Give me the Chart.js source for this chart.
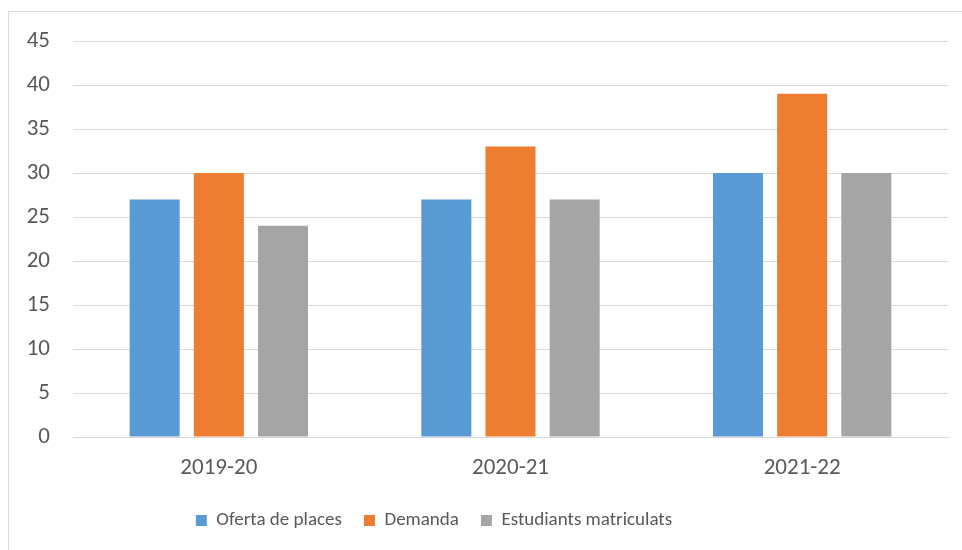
<!DOCTYPE html>
<html>
<head>
<meta charset="utf-8">
<script src="https://cdn.jsdelivr.net/npm/chart.js@4.4.0/dist/chart.umd.min.js"></script>
<style>
    body { margin: 0; background: #fff; }
    #frame { position: absolute; left: 8px; top: 11px; width: 980px; height: 600px; border: 1px solid #d9d9d9; }
    #wrap { position: absolute; left: 0; top: 0; width: 962px; height: 550px; }
</style>
</head>
<body>
<div id="frame"></div>
<div id="wrap"><canvas id="chart"></canvas></div>
<script>
const categories = ["2019-20", "2020-21", "2021-22"];
const oferta = [27, 27, 30];
const demanda = [30, 33, 39];
const matriculats = [24, 27, 30];
const seriesNames = ["Oferta de places", "Demanda", "Estudiants matriculats"];
const yTicks = [0, 5, 10, 15, 20, 25, 30, 35, 40, 45];

const fontFam = "Carlito, Lato, sans-serif";
const textCol = "#595959";

// the legend sits a bit left of centre in the original
const legendShift = {
    id: 'legendShift',
    afterLayout(chart) {
        const lg = chart.legend;
        lg.left -= 40;
        lg.right -= 40;
    }
};

const chart = new Chart(document.querySelector("#chart"), {
    type: 'bar',
    data: {
        labels: categories,
        datasets: [
            { label: seriesNames[0], data: oferta, backgroundColor: "#5b9bd5" },
            { label: seriesNames[1], data: demanda, backgroundColor: "#ed7d31" },
            { label: seriesNames[2], data: matriculats, backgroundColor: "#a5a5a5" }
        ]
    },
    options: {
        responsive: true,
        maintainAspectRatio: false,
        animation: false,
        datasets: {
            bar: { categoryPercentage: 0.66, barPercentage: 0.78 }
        },
        layout: { padding: { top: 41, right: 14, bottom: 10, left: 0 } },
        plugins: {
            tooltip: { enabled: false },
            legend: {
                position: 'bottom',
                labels: {
                    boxWidth: 11,
                    boxHeight: 11,
                    padding: 22,
                    color: textCol,
                    font: { family: fontFam, size: 19 }
                }
            }
        },
        scales: {
            x: {
                grid: { display: false, drawTicks: false },
                border: { display: true, color: "#d9d9d9" },
                ticks: { color: textCol, padding: 17, font: { family: fontFam, size: 23 } },
                afterFit: function (scale) { scale.height = 52; }
            },
            y: {
                min: 0,
                max: yTicks[yTicks.length - 1],
                afterBuildTicks: function (scale) { scale.ticks = yTicks.map(v => ({ value: v })); },
                grid: { color: "#d9d9d9", drawTicks: false },
                border: { display: false },
                ticks: { color: textCol, padding: 23, font: { family: fontFam, size: 23 } },
                afterFit: function (scale) { scale.width = 73; }
            }
        }
    },
    plugins: [legendShift]
});
</script>
</body>
</html>
